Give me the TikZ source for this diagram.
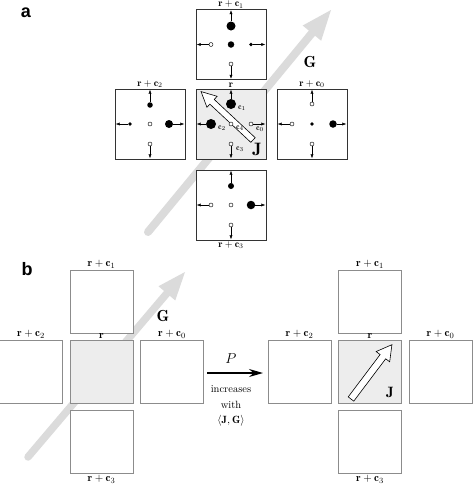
\documentclass[tikz,border=0pt]{standalone}
\usepackage{fontspec}
\usepackage{amsmath}
\newfontfamily\panelfont{Liberation Sans}
\usetikzlibrary{arrows.meta,calc}
\definecolor{garrow}{gray}{0.86}
\definecolor{cfill}{gray}{0.93}
\begin{document}
\begin{tikzpicture}[x=1pt,y=-1pt,
  boxa/.style={draw=black!80,line width=0.6pt,fill=white,minimum size=70pt,inner sep=0pt},
  boxb/.style={draw=black!45,line width=0.6pt,fill=white,minimum size=63pt,inner sep=0pt},
  fd/.style={circle,fill=black,inner sep=0pt,minimum size=#1},
  od/.style={circle,draw=black,fill=white,line width=0.45pt,inner sep=0pt,minimum size=4pt},
  sarr/.style={-{Latex[length=4pt,width=3.2pt]},line width=0.5pt,shorten >=1pt},
  lbl/.style={inner sep=1pt,font=\normalsize},
  lblb/.style={inner sep=1.5pt,font=\fontsize{11}{11}\selectfont},
  clbl/.style={inner sep=0pt,font=\footnotesize},
  panel/.style={inner sep=0pt,font=\panelfont\bfseries\fontsize{18}{18}\selectfont},
  glbl/.style={inner sep=0pt,font=\fontsize{16}{16}\selectfont},
  ptxt/.style={inner sep=0pt,font=\fontsize{10.5}{10.5}\selectfont},
  openarr/.style={draw=black,fill=white,line width=0.6pt,line join=miter},
]
\useasboundingbox (0,0) rectangle (472,485);

% ---------------- panel a ----------------
\node[panel] (pa) at (26,13) {a};

\coordinate (Ga0) at (148,232);
\coordinate (Ga1) at (331,10);
\coordinate (Gab) at ($(Ga1)!30pt!(Ga0)$);
\draw[draw=garrow,line width=8pt,line cap=round] (Ga0) -- (Gab);
\fill[garrow] (Ga1) -- ($(Gab)!12pt!90:(Ga1)$) -- ($(Gab)!12pt!-90:(Ga1)$) -- cycle;
\node[glbl] (Ga) at (310,62) {$\mathbf{G}$};

\node[boxa,fill=cfill] (ac) at (231,124) {};
\node[boxa] (at) at (231,44.5) {};
\node[boxa] (al) at (150,124) {};
\node[boxa] (ar) at (312,124) {};
\node[boxa] (ab) at (231,205) {};

\node[lbl,anchor=south,inner sep=0.6pt] (latl) at (at.north) {$\mathbf{r}+\mathbf{c}_1$};
\node[lbl,anchor=south] (lacl) at (ac.north) {$\mathbf{r}$};
\node[lbl,anchor=south] (lall) at (al.north) {$\mathbf{r}+\mathbf{c}_2$};
\node[lbl,anchor=south] (larl) at (ar.north) {$\mathbf{r}+\mathbf{c}_0$};
\node[lbl,anchor=north] (labl) at (ab.south) {$\mathbf{r}+\mathbf{c}_3$};

% top box (r + c1)
\node[fd=6.5pt] (t0) at (231,44.5) {};
\node[fd=9pt]   (tu) at (231,26) {};
\node[od]       (tl) at (211,44.5) {};
\node[fd=3.8pt] (tr) at (251,44.5) {};
\node[od]       (td) at (231,64) {};
\draw[sarr] (tu) -- (at.north);
\draw[sarr] (tl) -- (at.west);
\draw[sarr] (tr) -- (at.east);
\draw[sarr] (td) -- (at.south);

% left box (r + c2)
\node[od]       (l0) at (150,124) {};
\node[fd=5.5pt] (lu) at (150,105) {};
\node[fd=3.8pt] (ll) at (130,124) {};
\node[fd=8pt]   (lr) at (169,124) {};
\node[od]       (ld) at (150,144) {};
\draw[sarr] (lu) -- (al.north);
\draw[sarr] (ll) -- (al.west);
\draw[sarr] (lr) -- (al.east);
\draw[sarr] (ld) -- (al.south);

% right box (r + c0)
\node[fd=3.8pt] (r0) at (312,124) {};
\node[od]       (ru) at (312,104) {};
\node[od]       (rl) at (292,124) {};
\node[fd=7.5pt] (rr) at (333,124) {};
\node[od]       (rd) at (312,144) {};
\draw[sarr] (ru) -- (ar.north);
\draw[sarr] (rl) -- (ar.west);
\draw[sarr] (rr) -- (ar.east);
\draw[sarr] (rd) -- (ar.south);

% bottom box (r + c3)
\node[od]       (b0) at (231,205) {};
\node[fd=6pt]   (bu) at (231,186) {};
\node[od]       (bl) at (211,205) {};
\node[fd=8.5pt] (br) at (251,205) {};
\node[od]       (bd) at (231,225) {};
\draw[sarr] (bu) -- (ab.north);
\draw[sarr] (bl) -- (ab.west);
\draw[sarr] (br) -- (ab.east);
\draw[sarr] (bd) -- (ab.south);

% centre box (r)
\begin{scope}[shift={(253,140)},rotate=137]
  \draw[openarr] (0,-3.2) -- (56,-3.2) -- (56,-7.5) -- (71,0) -- (56,7.5) -- (56,3.2) -- (0,3.2) -- cycle;
\end{scope}
\node[od]      (c4) at (231,124) {};
\node[fd=10pt] (c1) at (231,104) {};
\node[fd=10pt] (c2) at (211,124) {};
\node[od]      (c0) at (251,124) {};
\node[od]      (c3) at (231,144) {};
\draw[sarr] (c1) -- (ac.north);
\draw[sarr] (c2) -- (ac.west);
\draw[sarr] (c0) -- (ac.east);
\draw[sarr] (c3) -- (ac.south);
\node[clbl] (c1l) at (242,108) {$\mathbf{c}_1$};
\node[clbl] (c2l) at (222,128) {$\mathbf{c}_2$};
\node[clbl] (c4l) at (240,128) {$\mathbf{c}_4$};
\node[clbl] (c0l) at (260,129) {$\mathbf{c}_0$};
\node[clbl] (c3l) at (240,149) {$\mathbf{c}_3$};
\node[inner sep=0pt,font=\fontsize{18}{18}\selectfont] (Ja) at (257,149) {$\mathbf{J}$};

% ---------------- panel b ----------------
\node[panel] (pb) at (27,269) {b};

\coordinate (Gb0) at (28,457);
\coordinate (Gb1) at (185,272);
\coordinate (Gbb) at ($(Gb1)!28pt!(Gb0)$);
\draw[draw=garrow,line width=7.5pt,line cap=round] (Gb0) -- (Gbb);
\fill[garrow] (Gb1) -- ($(Gbb)!11pt!90:(Gb1)$) -- ($(Gbb)!11pt!-90:(Gb1)$) -- cycle;

% left group
\node[boxb,fill=cfill] (bc) at (101.5,372) {};
\node[boxb] (bt) at (101.5,302) {};
\node[boxb] (bb) at (101.5,442) {};
\node[boxb] (bl) at (31,372) {};
\node[boxb] (br) at (172,372) {};
\node[glbl] (Gb) at (163,316) {$\mathbf{G}$};
\node[lblb,anchor=south] (lbtl) at (bt.north) {$\mathbf{r}+\mathbf{c}_1$};
\node[lblb,anchor=south] (lbcl) at (bc.north) {$\mathbf{r}$};
\node[lblb,anchor=south] (lbll) at (bl.north) {$\mathbf{r}+\mathbf{c}_2$};
\node[lblb,anchor=south] (lbrl) at (br.north) {$\mathbf{r}+\mathbf{c}_0$};
\node[lblb,anchor=north] (lbbl) at (bb.south) {$\mathbf{r}+\mathbf{c}_3$};

% transition arrow
\coordinate (Pa) at (207,373);
\coordinate (Pb) at (263,373);
\draw[-{Stealth[length=14pt,width=8pt]},line width=1.3pt] (Pa) -- (Pb);
\node[inner sep=0pt,font=\fontsize{15}{15}\selectfont] (P) at (231,359) {$P$};
\node[ptxt] (inc) at (231,389) {increases};
\node[ptxt] (wth) at (231,405) {with};
\node[ptxt] (jg) at (231,421) {$\langle\mathbf{J},\mathbf{G}\rangle$};

% right group
\node[boxb,fill=cfill] (rc) at (370,372) {};
\node[boxb] (rt) at (370,302) {};
\node[boxb] (rb) at (370,442) {};
\node[boxb] (rl) at (299.5,372) {};
\node[boxb] (rr) at (440.5,372) {};
\node[lblb,anchor=south] (lrtl) at (rt.north) {$\mathbf{r}+\mathbf{c}_1$};
\node[lblb,anchor=south] (lrcl) at (rc.north) {$\mathbf{r}$};
\node[lblb,anchor=south] (lrll) at (rl.north) {$\mathbf{r}+\mathbf{c}_2$};
\node[lblb,anchor=south] (lrrl) at (rr.north) {$\mathbf{r}+\mathbf{c}_0$};
\node[lblb,anchor=north] (lrbl) at (rb.south) {$\mathbf{r}+\mathbf{c}_3$};
\begin{scope}[shift={(351,399)},rotate=53]
  \draw[openarr] (0,-3.5) -- (53,-3.5) -- (53,-8.5) -- (68,0) -- (53,8.5) -- (53,3.5) -- (0,3.5) -- cycle;
\end{scope}
\node[inner sep=0pt,font=\fontsize{15}{15}\selectfont] (Jb) at (390,392) {$\mathbf{J}$};
\end{tikzpicture}
\end{document}
